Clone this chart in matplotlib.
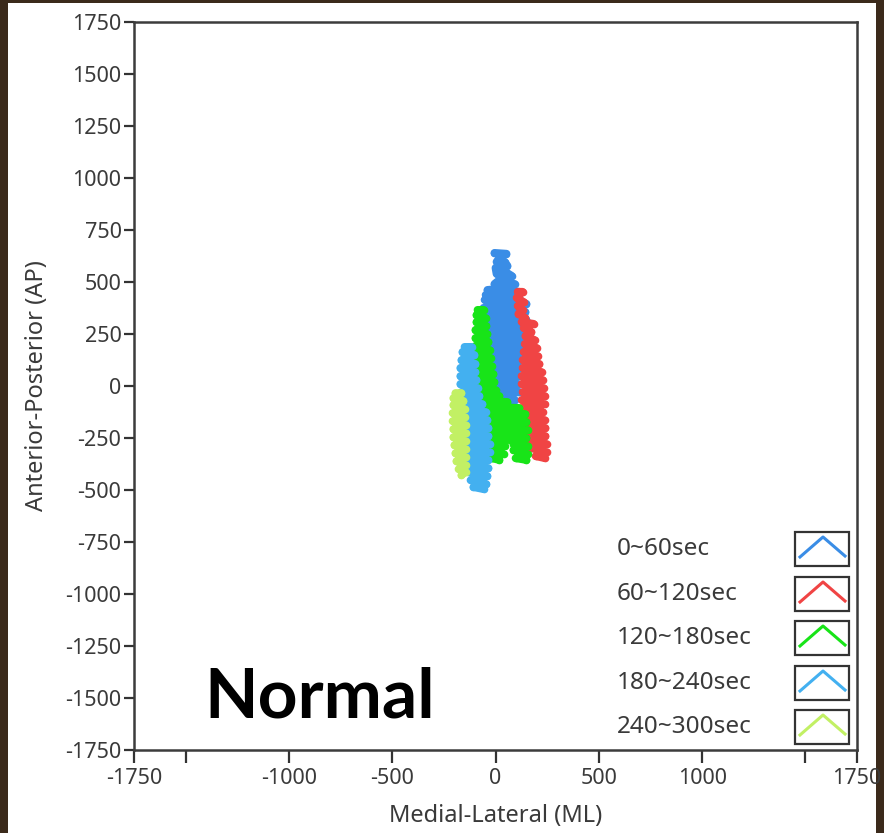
import numpy as np
import matplotlib
matplotlib.use("Agg")
import matplotlib.pyplot as plt
from matplotlib.patches import Rectangle

# ---------------- data ----------------
labels = ["0~60sec", "60~120sec", "120~180sec", "180~240sec", "240~300sec"]
colors = ["#3a8de6", "#f04444", "#18e418", "#43b0f0", "#c2f064"]

ml_0_60 = [-5, 53, 19, 5, 44, 58, 0, 5, 48, 78, 19, -5, 92, 68, -39, 116, -48, 116, -53, 150,
           -58, 145, -63, 150, -63, 150, -58, 145, -58, 136, -53, 131, -48, 126, -44, 121, -29, 116,
           -5, 107, 5, 116, 19, 92, 44, 107, 68]
ap_0_60 = [640, 636, 616, 597, 597, 578, 568, 539, 549, 530, 510, 491, 491, 472, 462, 453, 438, 424,
           414, 395, 376, 356, 337, 318, 299, 279, 260, 241, 221, 202, 183, 164, 144, 125, 106, 87,
           67, 48, 29, 10, -10, -29, -48, -67, -87, -106, -120]

ml_60_120 = [107, 131, 102, 136, 107, 131, 111, 145, 126, 184, 136, 174, 145, 189, 141, 199, 136,
             204, 131, 213, 131, 223, 126, 228, 126, 233, 131, 238, 126, 238, 126, 228, 131, 238,
             136, 242, 145, 242, 155, 247, 174, 247, 194, 238]
ap_60_120 = [453, 453, 424, 404, 385, 366, 347, 327, 308, 299, 279, 260, 241, 221, 202, 183, 164,
             144, 125, 106, 87, 67, 48, 29, 10, -10, -29, -48, -67, -87, -106, -125, -144, -164,
             -183, -202, -221, -241, -260, -279, -299, -318, -337, -347]

ml_120_180 = [-87, -58, -92, -48, -92, -44, -97, -39, -97, -34, -97, -29, -102, -24, -107, -19,
              -111, -10, -107, -5, -107, 0, -102, 19, -87, 58, -58, 116, -44, 145, -39, 150, -39,
              155, -34, 150, -29, 44, -24, 39, -19, 19, np.nan, 87, 155, 87, 155, 97, 150]
ap_120_180 = [366, 366, 342, 327, 308, 289, 270, 250, 231, 212, 193, 173, 154, 135, 116, 96, 77,
              58, 39, 19, 0, -19, -39, -48, -67, -77, -96, -106, -125, -135, -154, -173, -193,
              -212, -231, -250, -270, -289, -308, -327, -347, -356, np.nan, -279, -289, -308,
              -327, -347, -356]

ml_180_240 = [-150, -116, -160, -102, -165, -97, -170, -97, -170, -92, -170, -87, -165, -78, -165,
              -63, -160, -48, -160, -39, -155, -34, -155, -34, -150, -29, -145, -29, -141, -34,
              -136, -34, -131, -39, -121, -44, -107, -58]
ap_180_240 = [188, 188, 164, 149, 125, 106, 87, 67, 48, 29, 10, -10, -29, -48, -67, -87, -106,
              -125, -144, -164, -183, -202, -221, -241, -260, -279, -299, -318, -337, -356, -376,
              -395, -414, -433, -453, -472, -486, -496]

ml_240_300 = [-194, -165, -204, -155, -204, -150, -208, -150, -208, -145, -204, -145, -204, -145,
              -199, -145, -194, -145, -189, -145, -179, -145, -165]
ap_240_300 = [-34, -34, -58, -72, -91, -111, -130, -149, -169, -188, -207, -226, -246, -265, -284,
              -303, -323, -342, -361, -380, -400, -414, -429]

series_ml = [ml_0_60, ml_60_120, ml_120_180, ml_180_240, ml_240_300]
series_ap = [ap_0_60, ap_60_120, ap_120_180, ap_180_240, ap_240_300]

yticks = list(range(-1750, 1751, 250))
xticks = [-1750, -1500, -1000, -500, 0, 500, 1000, 1500, 1750]
xticklabels = ["-1750", "", "-1000", "-500", "0", "500", "1000", "", "1750"]

# ---------------- figure ----------------
W, H = 884, 833
fig = plt.figure(figsize=(W / 100, H / 100), dpi=100, facecolor="#3b2a1b")
fig.patches.append(Rectangle((8 / W, 0), (876 - 8) / W, (H - 3) / H,
                             transform=fig.transFigure, facecolor="white",
                             edgecolor="none", zorder=-10))

ax_l, ax_r, ax_t, ax_b = 134, 857, 22, 750
ax = fig.add_axes([ax_l / W, (H - ax_b) / H, (ax_r - ax_l) / W, (ax_b - ax_t) / H])
ax.set_facecolor("white")

for ml, ap, c in zip(series_ml, series_ap, colors):
    ax.plot(ml, ap, color=c, lw=5.6, marker="o", ms=5.5, mew=0,
            solid_joinstyle="round", solid_capstyle="round")

ax.set_xlim(-1750, 1750)
ax.set_ylim(-1750, 1750)

tick_font = dict(family="Noto Sans", size=15.5, color="#3a3a3a")
ax.set_xticks(xticks)
ax.set_xticklabels(xticklabels, **tick_font)
ax.set_yticks(yticks)
ax.set_yticklabels([str(v) for v in yticks], **tick_font)
ax.tick_params(axis="x", length=9, width=1.6, color="#333333", pad=4, direction="out")
ax.tick_params(axis="y", length=7, width=1.6, color="#333333", pad=2, direction="out")

for s in ax.spines.values():
    s.set_color("#3c3c3c")
    s.set_linewidth(1.8)

ax.set_xlabel("Medial-Lateral (ML)", family="Noto Sans", size=17, color="#3a3a3a", labelpad=11)
ax.set_ylabel("Anterior-Posterior (AP)", family="Noto Sans", size=17, color="#3a3a3a", labelpad=12)

# big label
ax.text((320 - ax_l) / (ax_r - ax_l), (ax_b - 698) / (ax_b - ax_t), "Normal",
        transform=ax.transAxes, family="Lato", weight="bold", size=50,
        color="black", ha="center", va="center")

# custom legend
aw, ah = ax_r - ax_l, ax_b - ax_t
centers = [549, 594, 638, 683, 727]
for lab, c, cy in zip(labels, colors, centers):
    fy = (ax_b - cy) / ah
    ax.text((617 - ax_l) / aw, fy, lab, transform=ax.transAxes, family="Noto Sans",
            size=17.5, color="#3a3a3a", ha="left", va="center")
    bx0, bx1 = 795, 849
    ax.add_patch(Rectangle(((bx0 - ax_l) / aw, (ax_b - (cy + 17)) / ah),
                           (bx1 - bx0) / aw, 34 / ah, transform=ax.transAxes,
                           facecolor="white", edgecolor="#333333", lw=1.6, zorder=5))
    px = [800, 823, 845]
    py = [cy + 8, cy - 12, cy + 7]
    ax.plot([(p - ax_l) / aw for p in px], [(ax_b - q) / ah for q in py],
            transform=ax.transAxes, color=c, lw=2.2, zorder=6, clip_on=False)

fig.savefig("out.png", dpi=100, facecolor=fig.get_facecolor())
